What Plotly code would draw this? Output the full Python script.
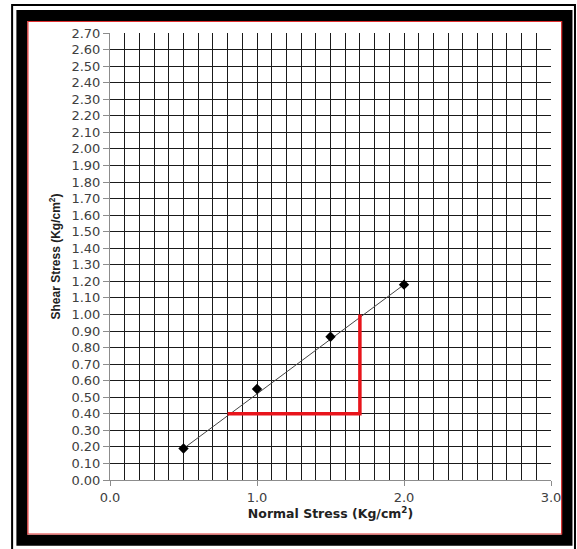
import plotly.graph_objects as go

# ---- data ----
normal_stress = [0.5, 1.0, 1.5, 2.0]
shear_stress = [0.19, 0.55, 0.865, 1.18]

trend_x = [0.5, 2.0]
trend_y = [0.19, 1.18]

slope_x = [0.8, 1.7, 1.7]
slope_y = [0.40, 0.40, 1.00]

x_ticks = [0.0, 1.0, 2.0, 3.0]
x_ticklabels = ["0.0", "1.0", "2.0", "3.0"]
y_ticks = [round(i * 0.1, 2) for i in range(28)]
y_ticklabels = ["%.2f" % v for v in y_ticks]

# ---- layout geometry (pixels) ----
W, H = 577, 549
L, R, T, B = 110, 551.5, 33, 480


def px(xpix):
    return (xpix - L) / (R - L)


def py(ypix):
    return (B - ypix) / (B - T)


fig = go.Figure()

fig.add_trace(go.Scatter(
    x=trend_x, y=trend_y, mode="lines",
    line=dict(color="#444444", width=1), hoverinfo="skip", showlegend=False))

fig.add_trace(go.Scatter(
    x=slope_x, y=slope_y, mode="lines",
    line=dict(color="#e8141b", width=3.5), hoverinfo="skip", showlegend=False))

fig.add_trace(go.Scatter(
    x=normal_stress, y=shear_stress, mode="markers",
    marker=dict(symbol="diamond", size=8, color="black"), showlegend=False))

tickfont = dict(family="DejaVu Sans, sans-serif", size=13, color="#404040")
xtitlefont = dict(family="DejaVu Sans, sans-serif", size=12.5, color="#222222")
ytitlefont = dict(family="Liberation Sans, Arial, sans-serif", size=12, color="#222222")

fig.update_xaxes(
    range=[0, 3], tickmode="array", tickvals=x_ticks, ticktext=x_ticklabels,
    showgrid=True, gridcolor="#1a1a1a", gridwidth=1,
    minor=dict(dtick=0.1, showgrid=True, gridcolor="#1a1a1a", gridwidth=1),
    showline=True, linecolor="#8c8c8c", linewidth=1,
    ticks="outside", ticklen=5, tickcolor="#8c8c8c",
    tickfont=tickfont, zeroline=False,
    title=dict(text="<b>Normal Stress (Kg/cm<sup>2</sup>)</b>", font=xtitlefont, standoff=4),
)
fig.update_yaxes(
    range=[0, 2.7], tickmode="array", tickvals=y_ticks, ticktext=y_ticklabels,
    showgrid=True, gridcolor="#1a1a1a", gridwidth=1,
    showline=True, linecolor="#8c8c8c", linewidth=1,
    ticks="outside", ticklen=6, tickcolor="#8c8c8c",
    tickfont=tickfont, zeroline=False,
    title=dict(text="<b>Shear Stress (Kg/cm<sup>2</sup>)</b>", font=ytitlefont, standoff=8),
)

shapes = [
    # outer thin frame
    dict(type="rect", xref="paper", yref="paper",
         x0=px(12), x1=px(575.5), y0=py(5), y1=py(551),
         line=dict(color="black", width=2), layer="above"),
    # thick black frame
    dict(type="rect", xref="paper", yref="paper",
         x0=px(21.8), x1=px(567.5), y0=py(15.5), y1=py(540.2),
         line=dict(color="black", width=11), layer="above"),
    # thin red inner line
    dict(type="rect", xref="paper", yref="paper",
         x0=px(27.8), x1=px(562.2), y0=py(21.5), y1=py(534),
         line=dict(color="#e03030", width=1.2), layer="above"),
]

fig.update_layout(
    width=W, height=H,
    margin=dict(l=L, r=W - R, t=T, b=H - B, pad=0),
    paper_bgcolor="white", plot_bgcolor="white",
    shapes=shapes, showlegend=False,
)

fig.write_html("out.html")
